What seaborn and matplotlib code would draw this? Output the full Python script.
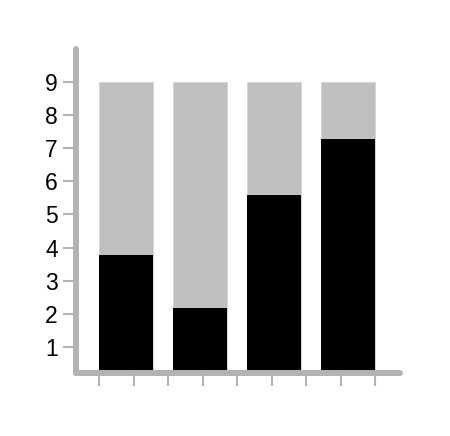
import numpy as np
import pandas as pd
import matplotlib
matplotlib.use("Agg")
import matplotlib.pyplot as plt
import seaborn as sns

# data
groups = ["A", "B", "C", "D"]
totals = [9, 9, 9, 9]
lower = [3.77, 2.16, 5.58, 7.27]
yticks = [1, 2, 3, 4, 5, 6, 7, 8, 9]

sns.set_theme(style="white")
plt.rcParams['font.family'] = ['Liberation Sans', 'DejaVu Sans']

df = pd.DataFrame({"group": groups, "total": totals, "lower": lower})

fig = plt.figure(figsize=(4.5, 4.36), dpi=100)
ax = fig.add_axes([0.1689, 0.1438, 0.72, 0.7438])

bw = 0.73
sns.barplot(data=df, x="group", y="total", color="#c0c0c0", saturation=1,
            width=bw, ax=ax, edgecolor="#d4d4d4", linewidth=0.6)
sns.barplot(data=df, x="group", y="lower", color="black", saturation=1,
            width=bw, ax=ax, linewidth=0)

ax.set_xlim(-0.676, 3.70)
ax.set_ylim(0.2, 10)
ax.set_xlabel("")
ax.set_ylabel("")

axis_grey = "#b3b3b3"
for side in ["top", "right"]:
    ax.spines[side].set_visible(False)
for side in ["left", "bottom"]:
    sp = ax.spines[side]
    sp.set_color(axis_grey)
    sp.set_linewidth(4.3)
    sp.set_capstyle("round")
    sp.set_zorder(5)

ax.set_yticks(yticks)
ax.set_yticklabels([str(t) for t in yticks], fontsize=16.5)
n = len(groups)
ax.set_xticks(np.linspace(-bw / 2, n - 1 + bw / 2, 9))
ax.set_xticklabels([])
ax.tick_params(axis="both", direction="out", color=axis_grey, width=1.5,
               length=9.5, labelcolor="black")
ax.tick_params(axis="y", pad=3.5)
ax.tick_params(left=True, bottom=True)

fig.savefig("out.png", dpi=100)
